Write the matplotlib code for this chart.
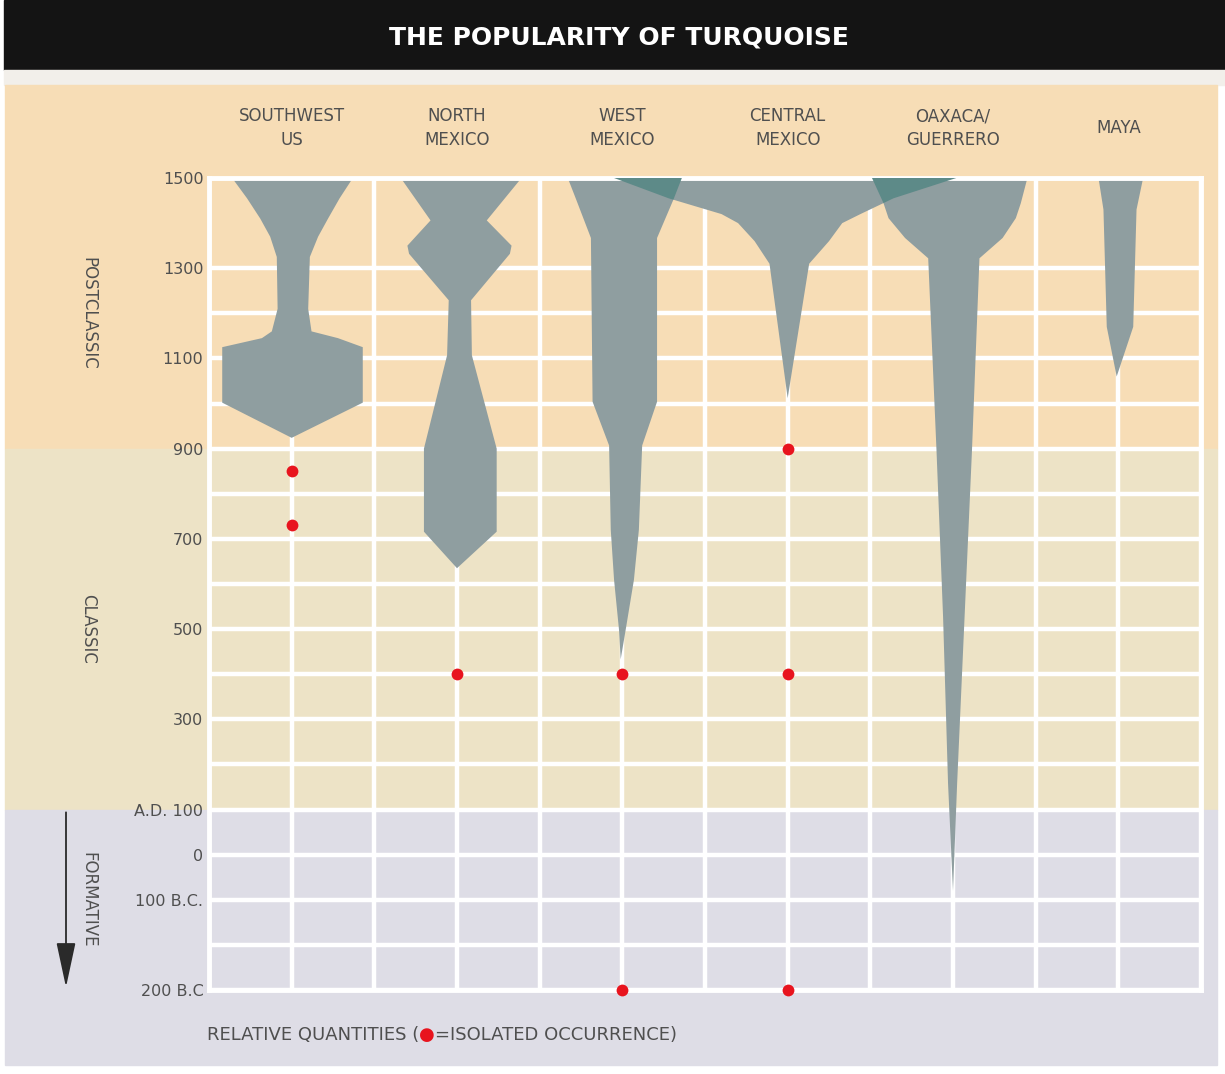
import numpy as np
import matplotlib
matplotlib.use("Agg")
import matplotlib.pyplot as plt
from matplotlib.patches import Rectangle, FancyArrowPatch
from matplotlib.offsetbox import TextArea, HPacker, AnchoredOffsetbox

# column headers
regions = ["SOUTHWEST\nUS", "NORTH\nMEXICO", "WEST\nMEXICO",
           "CENTRAL\nMEXICO", "OAXACA/\nGUERRERO", "MAYA"]

# outline of each shape: years, left / right half widths (in column units)
sw_years = [1500, 1455, 1410, 1370, 1325, 1210, 1160, 1145, 1125, 1002, 924]
sw_left = [-0.36, -0.27, -0.19, -0.13, -0.09, -0.085, -0.12, -0.18, -0.42, -0.42, 0.0]
sw_right = [0.37, 0.29, 0.22, 0.16, 0.11, 0.10, 0.12, 0.28, 0.43, 0.43, 0.0]

nm_years = [1500, 1406, 1350, 1332, 1229, 1107, 900, 716, 635]
nm_left = [-0.34, -0.16, -0.30, -0.29, -0.05, -0.06, -0.20, -0.20, 0.0]
nm_right = [0.39, 0.18, 0.33, 0.32, 0.085, 0.09, 0.24, 0.24, 0.0]

wm_years = [1500, 1453, 1367, 1004, 907, 720, 609, 498, 433]
wm_left = [-0.33, -0.28, -0.19, -0.18, -0.08, -0.07, -0.05, -0.02, -0.01]
wm_right = [0.36, 0.31, 0.21, 0.21, 0.12, 0.10, 0.07, 0.02, -0.01]

cm_years = [1500, 1455, 1420, 1400, 1360, 1310, 1012]
cm_left = [-1.05, -0.72, -0.40, -0.30, -0.20, -0.11, 0.0]
cm_right = [1.02, 0.64, 0.44, 0.33, 0.25, 0.13, 0.0]

ox_years = [1500, 1444, 1411, 1367, 1322, 898, 527, 158, -80]
ox_left = [-0.49, -0.42, -0.39, -0.29, -0.15, -0.10, -0.06, -0.03, 0.0]
ox_right = [0.45, 0.41, 0.38, 0.30, 0.16, 0.115, 0.07, 0.025, 0.0]

my_years = [1500, 1430, 1300, 1170, 1060]
my_left = [-0.12, -0.09, -0.08, -0.07, -0.01]
my_right = [0.15, 0.11, 0.10, 0.09, -0.01]

# isolated occurrences
dot_cols = [0, 0, 1, 2, 2, 3, 3, 3]
dot_years = [850, 730, 400, 400, -200, 900, 400, -200]

# axis labels
tick_years = [1500, 1300, 1100, 900, 700, 500, 300, 100, 0, -100, -200]
tick_labels = ["1500", "1300", "1100", "900", "700", "500", "300",
               "A.D. 100", "0", "100 B.C.", "200 B.C"]
minor_years = [1200, 1000, 800, 600, 400, 200, -150]

period_names = ["POSTCLASSIC", "CLASSIC", "FORMATIVE"]
period_start = [1500, 900, 100]
period_end = [900, 100, -200]
period_colors = ["#f7ddb6", "#ede3c6", "#dedde6"]

gray = "#8f9ea0"
teal = "#5d8a88"
red = "#e8141e"
txt = "#4f4f4f"

W, H = 1225, 1074
fig = plt.figure(figsize=(W / 100, H / 100), dpi=100)
fig.patch.set_facecolor("white")
ax = fig.add_axes([209 / W, 1 - 990 / H, 992 / W, 812 / H])


# last century before 100 B.C. is drawn twice as tall
def fwd(y):
    y = np.asarray(y, float)
    return np.where(y >= -100, y, 2 * y + 100)


def inv(p):
    p = np.asarray(p, float)
    return np.where(p >= -100, p, (p - 100) / 2)


ax.set_yscale("function", functions=(fwd, inv))
ax.set_ylim(-200, 1500)
ax.set_xlim(-0.5, 5.5)
ax.set_facecolor("none")


def fig_y(year):
    d = ax.transData.transform((0, year))
    return fig.transFigure.inverted().transform(d)[1]


# title bar
fig.patches.append(Rectangle((4 / W, 1 - 70 / H), 1 - 4 / W, 70 / H,
                             transform=fig.transFigure, color="#141414", zorder=-5))
fig.patches.append(Rectangle((4 / W, 1 - 85 / H), 1 - 4 / W, 15 / H,
                             transform=fig.transFigure, color="#f2efea", zorder=-5))
fig.text(0.505, 1 - 37 / H, "THE POPULARITY OF TURQUOISE", color="white",
         fontsize=18, fontweight="bold", ha="center", va="center")

# period bands
x0, x1 = 5 / W, 1217 / W
edges = [1 - 85 / H, fig_y(900), fig_y(100), 1 - 1065 / H]
for k, c in enumerate(period_colors):
    fig.patches.append(Rectangle((x0, edges[k + 1]), x1 - x0, edges[k] - edges[k + 1],
                                 transform=fig.transFigure, color=c, zorder=-4))

for name, s, e in zip(period_names, period_start, period_end):
    mid = float(inv((fwd(s) + fwd(e)) / 2))
    fig.text(88 / W, fig_y(mid), name, rotation=270, ha="center", va="center",
             fontsize=12, color=txt)

arrow = FancyArrowPatch((66 / W, fig_y(100)), (66 / W, fig_y(-200)),
                        transform=fig.transFigure,
                        arrowstyle="-|>,head_length=1.4,head_width=0.3",
                        mutation_scale=20, color="#2a2a2a", lw=1.3, zorder=3)
fig.patches.append(arrow)

# grid
ax.set_xticks(range(6))
ax.set_xticks(np.arange(-0.5, 6, 1), minor=True)
ax.set_yticks(tick_years, tick_labels)
ax.set_yticks(minor_years, minor=True)
ax.grid(which="both", color="white", lw=3.2)
ax.set_axisbelow(True)
ax.tick_params(which="both", length=0)
ax.tick_params(axis="x", labelbottom=False)
ax.tick_params(axis="y", labelsize=11.5, labelcolor=txt, pad=4)
for s in ax.spines.values():
    s.set_color("white")
    s.set_linewidth(3.5)

for i, lab in enumerate(regions):
    ax.text(i, 1 + 50 / 812, lab, transform=ax.get_xaxis_transform(), ha="center",
            va="center", fontsize=12, color=txt, linespacing=1.4)

# shapes
shapes = [(sw_years, sw_left, sw_right), (nm_years, nm_left, nm_right),
          (wm_years, wm_left, wm_right), (cm_years, cm_left, cm_right),
          (ox_years, ox_left, ox_right), (my_years, my_left, my_right)]
outlines = []
polys = []
for i, (yrs, lft, rgt) in enumerate(shapes):
    yrs = np.array(yrs, float)
    xs = np.concatenate([i + np.array(rgt), (i + np.array(lft))[::-1]])
    ys = np.concatenate([yrs, yrs[::-1]])
    outlines.append((xs, ys))
    polys.append(ax.fill(xs, ys, color=gray, lw=0, zorder=2)[0])

# overlaps shown darker
ov1 = ax.fill(*outlines[3], color=teal, lw=0, zorder=3)[0]
ov1.set_clip_path(polys[2])
ov2 = ax.fill(*outlines[4], color=teal, lw=0, zorder=3)[0]
ov2.set_clip_path(polys[3])

ax.plot(dot_cols, dot_years, "o", color=red, ms=8.5, mec="none", zorder=5, clip_on=False)

# footnote
parts = [TextArea("RELATIVE QUANTITIES (", textprops=dict(color=txt, fontsize=13)),
         TextArea("\u25cf", textprops=dict(color=red, fontsize=13)),
         TextArea("=ISOLATED OCCURRENCE)", textprops=dict(color=txt, fontsize=13))]
box = AnchoredOffsetbox(loc="center left", child=HPacker(children=parts, sep=0, pad=0),
                        bbox_to_anchor=(207 / W, 1 - 1035 / H),
                        bbox_transform=fig.transFigure, frameon=False, pad=0, borderpad=0)
fig.add_artist(box)

fig.savefig("out.png", dpi=100)
